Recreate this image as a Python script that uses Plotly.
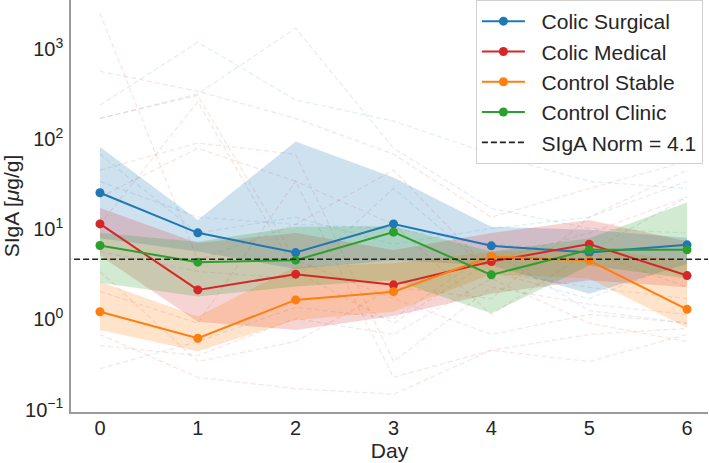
import plotly.graph_objects as go

days = [0, 1, 2, 3, 4, 5, 6]
groups = ["Colic Surgical", "Colic Medical", "Control Stable", "Control Clinic"]
colors = ["#1f77b4", "#d62728", "#ff7f0e", "#2ca02c"]
fills = ["rgba(31,119,180,0.22)", "rgba(214,39,40,0.2)", "rgba(255,127,14,0.22)", "rgba(44,160,44,0.22)"]

surg_mean = [22.4, 8.05, 4.86, 10.1, 5.77, 4.86, 5.92]
surg_hi = [72, 11.2, 83, 33, 9.4, 8.7, 7.1]
surg_lo = [7.0, 5.0, 3.2, 4.0, 3.5, 1.7, 3.6]

med_mean = [10.1, 1.87, 2.80, 2.13, 3.86, 6.03, 2.70]
med_hi = [15.2, 6.2, 8.0, 5.2, 8.0, 11.2, 6.5]
med_lo = [4.5, 0.83, 0.67, 0.96, 1.7, 2.4, 2.0]

stab_mean = [1.07, 0.544, 1.45, 1.79, 4.39, 3.96, 1.14]
stab_hi = [2.3, 0.95, 3.4, 3.7, 5.0, 5.5, 3.9]
stab_lo = [0.67, 0.39, 0.87, 1.07, 2.8, 2.5, 0.71]

clin_mean = [5.82, 3.80, 4.0, 8.19, 2.75, 5.21, 5.21]
clin_hi = [8.0, 6.4, 9.4, 9.5, 5.0, 7.0, 17.5]
clin_lo = [2.24, 1.58, 2.04, 2.4, 1.03, 3.5, 2.5]

means = [surg_mean, med_mean, stab_mean, clin_mean]
his = [surg_hi, med_hi, stab_hi, clin_hi]
los = [surg_lo, med_lo, stab_lo, clin_lo]

norm_value = 4.1

# faint individual trajectories
surg_ind = [
    [210, 1050, 240, 140, 60, 30, 25],
    [150, 280, 1500, 70, 15, 9, 8],
    [30, 12, 10, 9, 6, 5, 20],
    [0.25, 0.5, 1.2, 0.9, 5, 1.1, 0.8],
    [5, 3, 2.5, 25, 3, 1.5, 4],
    [60, 8, 12, 6, 9, 12, 30],
]
med_ind = [
    [2200, 4, 10, 40, 3, 2, 1.5],
    [500, 300, 150, 60, 12, 25, 50],
    [150, 270, 4, 1.5, 0.6, 1, 0.8],
    [40, 80, 60, 0.3, 2, 1.3, 1],
    [10, 230, 3, 0.8, 4, 8, 20],
    [0.6, 0.2, 0.15, 0.13, 0.4, 0.6, 0.7],
    [0.45, 0.35, 0.9, 0.6, 2.5, 0.8, 0.5],
    [3, 0.3, 0.5, 2, 1.5, 12, 40],
    [1.8, 0.8, 30, 10, 1, 5, 2],
    [20, 70, 30, 0.2, 0.4, 0.3, 0.6],
]

fig = go.Figure()

for vals in surg_ind:
    fig.add_trace(go.Scatter(x=days, y=vals, mode="lines", showlegend=False, hoverinfo="skip",
                             line=dict(color="rgba(31,119,180,0.13)", width=1.2, dash="5px,3px")))
for vals in med_ind:
    fig.add_trace(go.Scatter(x=days, y=vals, mode="lines", showlegend=False, hoverinfo="skip",
                             line=dict(color="rgba(214,39,40,0.13)", width=1.2, dash="5px,3px")))

for g, c, f, m, hi, lo in zip(groups, colors, fills, means, his, los):
    fig.add_trace(go.Scatter(x=days + days[::-1], y=hi + lo[::-1], fill="toself", fillcolor=f,
                             line=dict(width=0), mode="lines", showlegend=False, hoverinfo="skip"))

gap = "\u00a0\u00a0"
for g, c, m in zip(groups, colors, means):
    fig.add_trace(go.Scatter(x=days, y=m, mode="lines+markers", name=gap + g,
                             line=dict(color=c, width=2), marker=dict(size=9, color=c)))

fig.add_trace(go.Scatter(x=[-1, 8], y=[norm_value, norm_value], mode="lines",
                         name=gap + "SIgA Norm = " + str(norm_value),
                         line=dict(color="#222222", width=1.6, dash="6px,3px")))

font = "Liberation Sans, Arial, sans-serif"
fig.update_layout(
    width=709, height=463,
    margin=dict(l=71, r=1, t=0, b=51),
    plot_bgcolor="white", paper_bgcolor="white",
    font=dict(family=font, size=20, color="#262626"),
    xaxis=dict(range=[-0.296, 6.214], tickvals=days, showgrid=False, zeroline=False,
               showline=True, linecolor="#9a9a9a", linewidth=1.5,
               ticks="", ticklabelstandoff=-3,
               tickfont=dict(size=20),
               title=dict(text="Day", font=dict(size=21), standoff=0)),
    yaxis=dict(type="log", range=[-1.083, 3.49], showgrid=False, zeroline=False,
               showline=True, linecolor="#9a9a9a", linewidth=1.5,
               tickvals=[0.1, 1, 10, 100, 1000],
               ticktext=["10<sup>−1</sup>", "10<sup>0</sup>", "10<sup>1</sup>", "10<sup>2</sup>", "10<sup>3</sup>"],
               ticks="", ticklabelshift=5, ticklabelstandoff=2,
               tickfont=dict(size=20),
               title=dict(text="SIgA [<i>μ</i>g/g]", font=dict(size=21), standoff=4)),
    legend=dict(x=0.992, y=1.0, xanchor="right", yanchor="top",
                bgcolor="rgba(255,255,255,0.85)", bordercolor="#d0d0d0", borderwidth=1,
                font=dict(size=21, color="#262626"), itemwidth=43, tracegroupgap=0),
)

fig.write_html("out.html")
